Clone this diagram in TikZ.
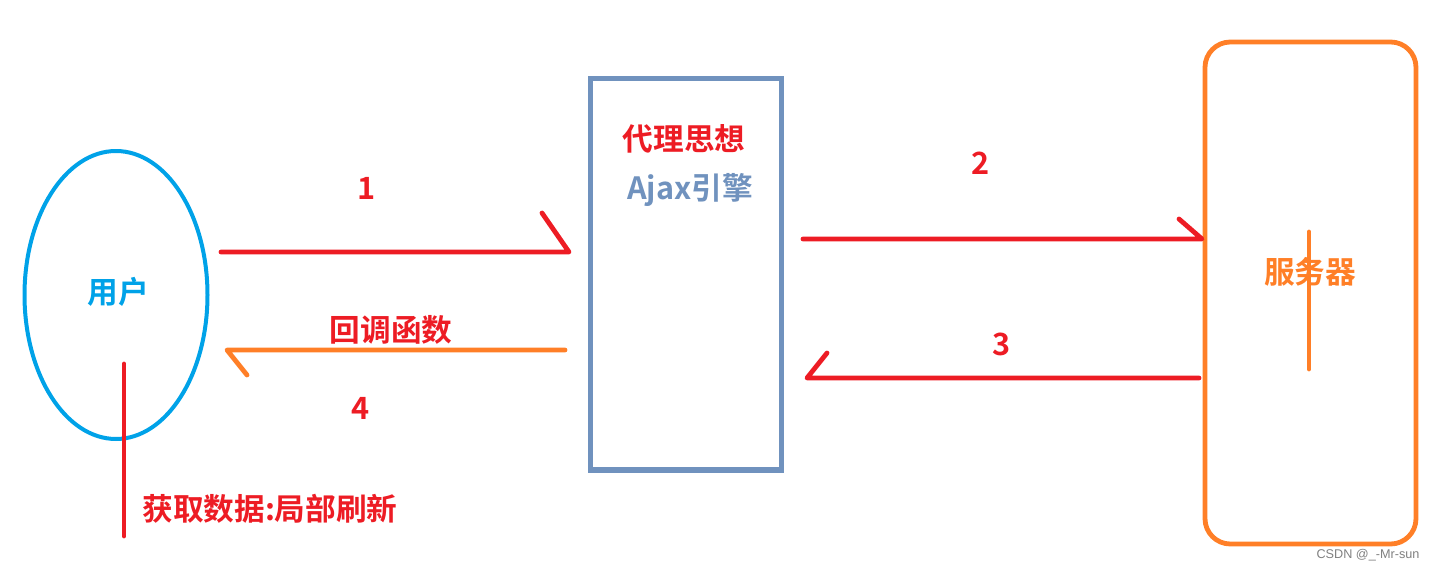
\documentclass[tikz,border=0pt]{standalone}
\usepackage{fontspec}
\setmainfont{Liberation Sans}
\newfontfamily\cjkbold{Noto Sans CJK SC Bold}
\definecolor{pRed}{RGB}{237,28,36}
\definecolor{pBlue}{RGB}{0,162,232}
\definecolor{pOrange}{RGB}{255,127,39}
\definecolor{pSteel}{RGB}{112,146,190}
\definecolor{pGray}{RGB}{128,128,128}

\tikzset{every picture/.style={line width=0.75pt}}
\tikzset{
  redline/.style={draw=pRed, line width=3.6pt, line cap=round, line join=round},
  orangeline/.style={draw=pOrange, line width=3.6pt, line cap=round, line join=round},
  bigtext/.style={font=\cjkbold\fontsize{23}{27}\selectfont, inner sep=0pt}
}

\begin{document}
\begin{tikzpicture}[x=0.75pt,y=0.75pt,yscale=-1,xscale=1]
\useasboundingbox (0,0) rectangle (1435,571);

%Shape: Ellipse [id:user] 
\draw [draw=pBlue, line width=3pt] (116,295) ellipse (91.5 and 144) ;
%Shape: Rectangle [id:engine] 
\draw [draw=pSteel, line width=3.8pt] (590.5,78.5) rectangle (781.5,470) ;
%Shape: Rounded Rect [id:server] 
\draw [draw=pOrange, line width=3.6pt, rounded corners=19pt] (1205,42) rectangle (1416,544) ;

%Coordinates of the connectors
\coordinate (oneS) at (221,252) ;
\coordinate (oneE) at (569,252) ;
\coordinate (oneB) at (542,213) ;
\coordinate (twoS) at (803,239) ;
\coordinate (twoE) at (1202,239) ;
\coordinate (twoB) at (1179,219) ;
\coordinate (threeS) at (1199,378) ;
\coordinate (threeE) at (807,378) ;
\coordinate (threeB) at (827,353) ;
\coordinate (fourS) at (565,350) ;
\coordinate (fourE) at (227,350) ;
\coordinate (fourB) at (247,375) ;
\coordinate (dataT) at (124,364) ;
\coordinate (dataB) at (124,536) ;
\coordinate (srvT) at (1309,232) ;
\coordinate (srvB) at (1309,369) ;

%Straight Lines [id:arrowOne] 
\draw [redline] (oneS) -- (oneE) -- (oneB) ;
%Straight Lines [id:arrowTwo] 
\draw [redline] (twoS) -- (twoE) -- (twoB) ;
%Straight Lines [id:arrowThree] 
\draw [redline] (threeS) -- (threeE) -- (threeB) ;
%Straight Lines [id:arrowFour] 
\draw [orangeline] (fourS) -- (fourE) -- (fourB) ;
%Straight Lines [id:dataLine] 
\draw [redline] (dataT) -- (dataB) ;
%Straight Lines [id:srvLine] 
\draw [orangeline] (srvT) -- (srvB) ;

% Text Node
\draw (118,292) node [bigtext, text=pBlue] (userlbl) {用户};
% Text Node
\draw (270,509) node [bigtext, text=pRed] (datalbl) {获取数据:局部刷新};
% Text Node
\draw (367,188) node [bigtext, text=pRed] (lblOne) {1};
% Text Node
\draw (391,330) node [bigtext, text=pRed] (cblbl) {回调函数};
% Text Node
\draw (361,408) node [bigtext, text=pRed] (lblFour) {4};
% Text Node
\draw (684,139) node [bigtext, text=pRed] (proxylbl) {代理思想};
% Text Node
\draw (690,190) node [bigtext, text=pSteel] (ajaxlbl) {Ajax引擎};
% Text Node
\draw (981,163) node [bigtext, text=pRed] (lblTwo) {2};
% Text Node
\draw (1002,344) node [bigtext, text=pRed] (lblThree) {3};
% Text Node
\draw (1310,272) node [bigtext, text=pOrange] (srvlbl) {服务器};
% Text Node
\draw (1368,555) node [font=\fontsize{9.5}{11}\selectfont, text=pGray, inner sep=0pt] (marklbl) {CSDN @\_-Mr-sun};

\end{tikzpicture}
\end{document}
